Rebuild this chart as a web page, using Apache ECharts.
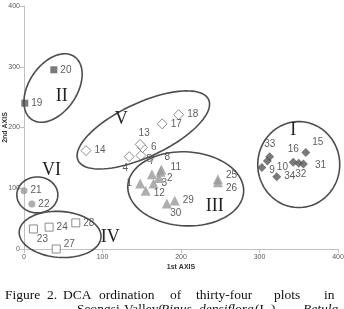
<!DOCTYPE html>
<html>
<head>
<meta charset="utf-8">
<script src="https://cdn.jsdelivr.net/npm/echarts@6/dist/echarts.min.js"></script>
<style>
html, body { margin: 0; padding: 0; background: #fff; }
#chart { width: 344px; height: 309px; }
</style>
</head>
<body>
<div id="chart"></div>
<script>
// DCA scores: [1st axis, 2nd axis, plot number]
const groupI = [[303, 134, '9'], [310, 145, '10'], [359, 159, '15'], [343, 143, '16'], [356, 140, '31'], [350, 141, '32'], [313, 152, '33'], [322, 119, '34']];
const groupII = [[1, 240, '19'], [38, 295, '20']];
const groupIII = [[148, 108, '1'], [172, 117, '2'], [165, 108, '3'], [163, 123, '7'], [175, 131, '8'], [174, 127, '11'], [155, 96, '12'], [247, 115, '25'], [247, 110, '26'], [192, 80, '29'], [182, 75, '30']];
const groupIV = [[12, 33, '23'], [32, 36, '24'], [41, 0, '27'], [66, 43, '28']];
const groupV = [[134, 152, '4'], [149, 154, '5'], [151, 167, '6'], [148, 172, '13'], [79, 162, '14'], [176, 206, '17'], [197, 221, '18']];
const groupVI = [[0, 96, '21'], [10, 74, '22']];
const axisTicks = [0, 100, 200, 300, 400];

// group outlines: name, centre (data), label position (data)
const groupNames = ['I', 'II', 'III', 'IV', 'V', 'VI'];
const groupCentres = [[350, 139], [37, 265], [206, 99], [46, 24], [152, 196], [17, 89]];
const groupLabelAt = [[343, 196], [48, 251], [243, 71], [110, 20], [124, 214], [35, 129]];

// label placement per plot: [position, dx, dy]
const labelPlace = {
    '23': ['bottom', 9, -2], '27': ['right', 0, -5],
    '13': ['top', 4, 2], '4': ['bottom', -4, -2], '5': ['right', -3, 4],
    '8': ['top', 6, 1], '11': ['right', 2, -5], '7': ['top', 0, 0],
    '1': ['left', 0, 0], '12': ['right', 0, 3], '30': ['bottom', 9, -3],
    '25': ['right', 0, -4], '26': ['right', 0, 6],
    '33': ['top', 0, 0], '10': ['right', 2, 6], '9': ['right', 0, 3],
    '16': ['top', 0, 0], '32': ['bottom', 2, -2], '31': ['right', 4, 1], '15': ['top', 12, 2]
};

const chart = echarts.init(document.getElementById('chart'));

function points(list, shape, size, fill, border) {
    return {
        type: 'scatter',
        symbol: shape,
        symbolSize: size,
        itemStyle: { color: fill, borderColor: border, borderWidth: border ? 1 : 0 },
        data: list.map(function (d) {
            const p = labelPlace[d[2]] || ['right', 0, 0];
            return {
                value: d,
                label: { position: p[0], offset: [p[1], p[2]] }
            };
        }),
        label: {
            show: true,
            formatter: function (o) { return o.value[2]; },
            fontSize: 10,
            fontFamily: 'Liberation Sans',
            color: '#333',
            distance: 3
        },
        z: 3
    };
}

const axisCommon = {
    type: 'value',
    min: axisTicks[0],
    max: axisTicks[axisTicks.length - 1],
    interval: axisTicks[1] - axisTicks[0],
    splitLine: { show: false },
    axisLine: { show: true, onZero: false, lineStyle: { color: '#c0c0c0' } },
    axisTick: { show: true, length: 4, lineStyle: { color: '#c0c0c0' } },
    axisLabel: { fontSize: 7, color: '#595959', fontFamily: 'Liberation Sans' },
    nameLocation: 'middle',
    nameMoveOverlap: false,
    nameTextStyle: { fontSize: 7, fontWeight: 'bold', color: '#333', fontFamily: 'Liberation Sans' }
};

chart.setOption({
    animation: false,
    grid: { left: 24, right: 6, top: 6, bottom: 60, containLabel: false, outerBoundsMode: 'none' },
    xAxis: Object.assign({}, axisCommon, {
        name: '1st AXIS', nameGap: 15,
        axisLabel: Object.assign({}, axisCommon.axisLabel, { margin: 5 })
    }),
    yAxis: Object.assign({}, axisCommon, {
        name: '2nd AXIS', nameGap: 15, nameRotate: 90,
        axisLabel: Object.assign({}, axisCommon.axisLabel, { margin: 4 })
    }),
    series: [
        points(groupI, 'diamond', 9, '#595959'),
        points(groupII, 'rect', 7, '#595959'),
        points(groupIII, 'triangle', 10, '#9a9a9a'),
        points(groupIV, 'rect', 8, '#fff', '#707070'),
        points(groupV, 'diamond', 10, '#fff', '#707070'),
        points(groupVI, 'circle', 7, '#9a9a9a')
    ]
});

// outline radii (px) and rotation (deg)
const outlineSize = [[41, 43, 0], [38, 24, 56], [58, 37, -3], [41, 23, -4], [72, 27, 25], [20.5, 18, 0]];

function ellipse(c, rx, ry, rot) {
    const t = rot * Math.PI / 180;
    const pts = [];
    for (let i = 0; i < 90; i++) {
        const a = i / 90 * 2 * Math.PI;
        const ex = rx * Math.cos(a), ey = ry * Math.sin(a);
        pts.push([c[0] + ex * Math.cos(t) - ey * Math.sin(t), c[1] - (ex * Math.sin(t) + ey * Math.cos(t))]);
    }
    return pts;
}

const graphics = [];
groupNames.forEach(function (name, i) {
    const c = chart.convertToPixel({ gridIndex: 0 }, groupCentres[i]);
    const s = outlineSize[i];
    graphics.push({
        type: 'polygon',
        shape: { points: ellipse(c, s[0], s[1], s[2]) },
        style: { fill: 'none', stroke: '#4d4d4d', lineWidth: 1.6 },
        z: 5
    });
    const l = chart.convertToPixel({ gridIndex: 0 }, groupLabelAt[i]);
    graphics.push({
        type: 'text', x: l[0], y: l[1], z: 6,
        style: { text: name, font: '18px "Liberation Serif"', fill: '#222', align: 'center', verticalAlign: 'middle' }
    });
});

// caption (justified first line)
const line1 = [['Figure', 5], ['2.', 47], ['DCA', 63], ['ordination', 99], ['of', 170], ['thirty-four', 196], ['plots', 274], ['in', 324]];
line1.forEach(function (w) {
    graphics.push({
        type: 'text', x: w[1], y: 288, z: 6,
        style: { text: w[0], font: '13.5px "Liberation Serif"', fill: '#111', align: 'left', verticalAlign: 'alphabetic' }
    });
});
const line2 = [['Seongsi', 77, ''], ['Valley(', 124, ''], ['Pinus', 161, 'italic '], ['densiflora', 199, 'italic '], ['(L.),', 255, ''], ['Betula', 303, 'italic ']];
line2.forEach(function (w) {
    graphics.push({
        type: 'text', x: w[1], y: 302, z: 6,
        style: { text: w[0], font: w[2] + '13.5px "Liberation Serif"', fill: '#111', align: 'left', verticalAlign: 'alphabetic' }
    });
});

chart.setOption({ graphic: graphics });
</script>
</body>
</html>
